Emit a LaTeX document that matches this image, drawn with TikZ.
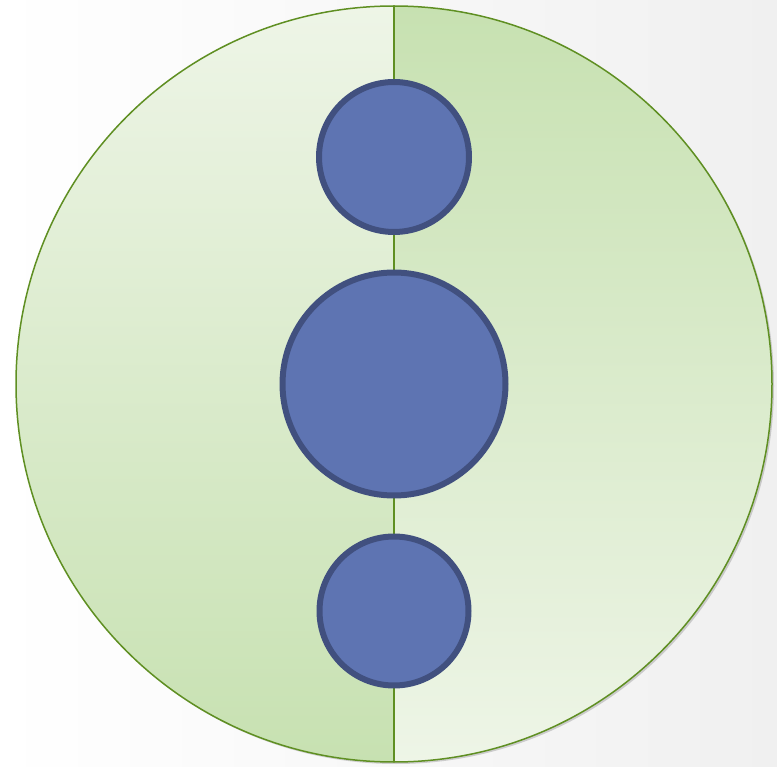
\documentclass[tikz,border=0pt]{standalone}
\usetikzlibrary{shadows}
\definecolor{lgreen}{HTML}{EEF5E7}
\definecolor{dgreen}{HTML}{C7E1B1}
\definecolor{edgegreen}{HTML}{5F8F22}
\definecolor{bfill}{HTML}{5E74B2}
\definecolor{bedge}{HTML}{41507F}
\definecolor{bggray}{HTML}{F0F0F0}
\tikzset{
  ball/.style={circle, draw=bedge, fill=bfill, line width=6pt, inner sep=0pt},
  divider/.style={draw=edgegreen, line width=1.8pt},
}
\begin{document}
\begin{tikzpicture}[x=1pt,y=-1pt]
\useasboundingbox (0,0) rectangle (777,767);
\shade[left color=white, right color=bggray] (0,0) rectangle (777,767);
\node[circle, minimum size=756pt, inner sep=0pt, fill=white,
      drop shadow={opacity=0.35, shadow xshift=2pt, shadow yshift=-2pt}] (big) at (394,384) {};
\begin{scope}
  \clip (394,384) circle (378pt);
  \shade[top color=lgreen, bottom color=dgreen] (14,4) rectangle (394,764);
  \shade[top color=dgreen, bottom color=lgreen] (394,4) rectangle (774,764);
\end{scope}
\draw[divider] (big.north) -- (big.south);
\draw[edgegreen, line width=1.5pt] (394,384) circle (378pt);
\node[ball, minimum size=150pt] (top) at (394,157) {};
\node[ball, minimum size=223pt] (mid) at (394,384) {};
\node[ball, minimum size=149pt] (bot) at (394,611) {};
\end{tikzpicture}
\end{document}
